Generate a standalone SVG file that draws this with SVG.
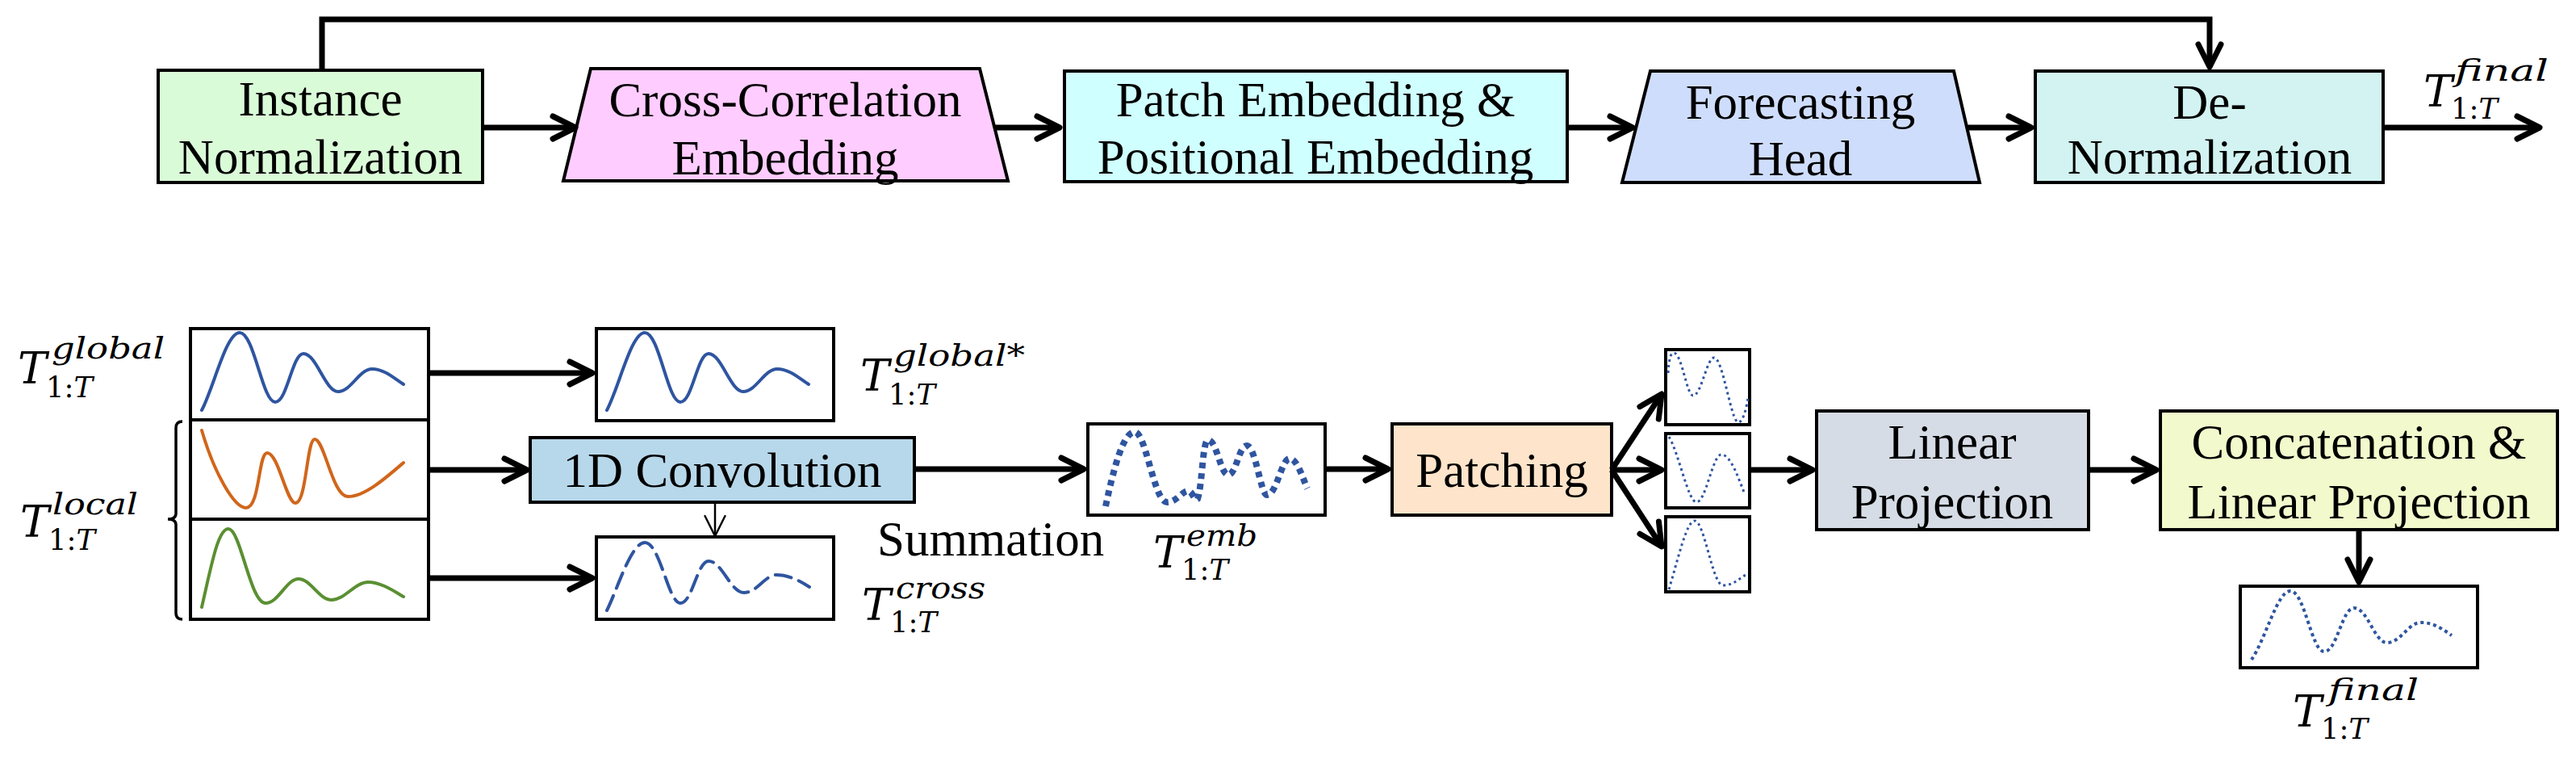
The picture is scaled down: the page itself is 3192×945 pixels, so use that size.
<svg xmlns="http://www.w3.org/2000/svg" width="3192" height="945" viewBox="0 0 3192 945">
<defs>
<style>
.box{stroke:#000;stroke-width:4;}
.lbl{font-family:"Liberation Serif","Times New Roman","DejaVu Serif",serif;font-size:61px;fill:#000;text-anchor:middle;}
.lbls{font-family:"Liberation Serif","Times New Roman","DejaVu Serif",serif;font-size:61px;fill:#000;}
.mT{font-family:"DejaVu Serif","Liberation Serif",serif;font-style:italic;font-size:54px;fill:#000;}
.mS{font-family:"DejaVu Serif","Liberation Serif",serif;font-style:italic;font-size:38px;fill:#000;}
.mB{font-family:"DejaVu Serif","Liberation Serif",serif;font-style:italic;font-size:36px;fill:#000;}
.up{font-style:normal;}
.conn{fill:none;stroke:#000;stroke-width:7;marker-end:url(#arr);}
.thin{fill:none;stroke:#000;stroke-width:2.5;marker-end:url(#arrs);}
.wave{fill:none;stroke-width:4;stroke-linecap:round;stroke-linejoin:round;}
</style>
<marker id="arr" markerUnits="strokeWidth" orient="auto" overflow="visible" markerWidth="1" markerHeight="1">
<path d="M-4,-2 L0,0 L-4,2" fill="none" stroke="#000" stroke-width="1" stroke-linecap="round" stroke-linejoin="round"/>
</marker>
<marker id="arrs" markerUnits="strokeWidth" orient="auto" overflow="visible" markerWidth="1" markerHeight="1">
<path d="M-10,-5 L0,0 L-10,5" fill="none" stroke="#000" stroke-width="1" stroke-linecap="round" stroke-linejoin="round"/>
</marker>
<path id="gwave" d="M250,508 C265,480 280,412 297,412 C315,412 325,498 341,498 C356,498 362,438 376,438 C392,438 403,485 419,485 C435,485 445,457 461,457 C477,457 490,470 500,476"/>
</defs>
<rect width="3192" height="945" fill="#fff"/>

<!-- Top row -->
<g id="instance-norm">
<rect class="box" x="196" y="87" width="402" height="139" fill="#DAFBD8"/>
<text class="lbl" x="397" y="143">Instance</text>
<text class="lbl" x="397" y="215">Normalization</text>
</g>
<g id="cross-corr-emb">
<polygon class="box" points="732,85 1214,85 1249,224 698,224" fill="#FFCCFF"/>
<text class="lbl" x="973" y="144">Cross-Correlation</text>
<text class="lbl" x="973" y="216">Embedding</text>
</g>
<g id="patch-pos-emb">
<rect class="box" x="1319" y="88" width="623" height="137" fill="#CFFFFF"/>
<text class="lbl" x="1630" y="144">Patch Embedding &amp;</text>
<text class="lbl" x="1630" y="215">Positional Embedding</text>
</g>
<g id="forecast-head">
<polygon class="box" points="2045,88 2421,88 2453,226 2010,226" fill="#CFDDFC"/>
<text class="lbl" x="2231" y="147">Forecasting</text>
<text class="lbl" x="2231" y="217">Head</text>
</g>
<g id="de-norm">
<rect class="box" x="2522" y="88" width="431" height="138" fill="#D2F3F1"/>
<text class="lbl" x="2738" y="147">De-</text>
<text class="lbl" x="2738" y="215">Normalization</text>
</g>
<g id="lbl-final-top">
<text class="mT" x="3003" y="132">T</text>
<text class="mS" x="3042" y="100" textLength="116" lengthAdjust="spacingAndGlyphs">final</text>
<text class="mB" x="3037" y="147" textLength="58" lengthAdjust="spacingAndGlyphs"><tspan class="up">1:</tspan>T</text>
</g>

<!-- Bottom left inputs -->
<g id="input-global">
<rect class="box" x="236" y="407" width="295" height="113" fill="#fff"/>
<use href="#gwave" class="wave" stroke="#2F55A0"/>
</g>
<g id="input-local-1">
<rect class="box" x="236" y="520" width="295" height="123" fill="#fff"/>
<path class="wave" stroke="#D0661B" d="M250,533 C265,585 290,629 305,629 C322,629 320,561 331,561 C345,561 355,623 366,623 C380,623 380,544 390,544 C402,544 412,615 431,615 C452,615 478,592 500,573"/>
</g>
<g id="input-local-2">
<rect class="box" x="236" y="643" width="295" height="124" fill="#fff"/>
<path class="wave" stroke="#5A8F32" d="M250,752 C262,700 270,655 283,655 C298,655 310,747 329,747 C345,747 355,717 370,717 C385,717 395,743 411,743 C427,743 440,721 456,721 C472,721 488,732 500,739"/>
</g>
<g id="brace">
<path d="M226,522 Q218,522 218,530 L218,636 Q218,643 208,643 Q218,643 218,650 L218,759 Q218,767 226,767" fill="none" stroke="#000" stroke-width="3.5"/>
</g>
<g id="lbl-global">
<text class="mT" x="22" y="475">T</text>
<text class="mS" x="64" y="444" textLength="140" lengthAdjust="spacingAndGlyphs">global</text>
<text class="mB" x="57" y="492" textLength="58" lengthAdjust="spacingAndGlyphs"><tspan class="up">1:</tspan>T</text>
</g>
<g id="lbl-local">
<text class="mT" x="25" y="665">T</text>
<text class="mS" x="65" y="637" textLength="106" lengthAdjust="spacingAndGlyphs">local</text>
<text class="mB" x="60" y="681" textLength="58" lengthAdjust="spacingAndGlyphs"><tspan class="up">1:</tspan>T</text>
</g>

<!-- Middle -->
<g id="global-star">
<rect class="box" x="739" y="407" width="294" height="114" fill="#fff"/>
<use href="#gwave" class="wave" stroke="#2F55A0" transform="translate(502,0)"/>
</g>
<g id="lbl-global-star">
<text class="mT" x="1066" y="484">T</text>
<text class="mS" x="1107" y="453" textLength="163" lengthAdjust="spacingAndGlyphs">global*</text>
<text class="mB" x="1101" y="501" textLength="58" lengthAdjust="spacingAndGlyphs"><tspan class="up">1:</tspan>T</text>
</g>
<g id="conv1d">
<rect class="box" x="657" y="542" width="476" height="80" fill="#B7D8EA"/>
<text class="lbl" x="895" y="603">1D Convolution</text>
</g>
<g id="cross-out">
<rect class="box" x="739" y="665" width="294" height="102" fill="#fff"/>
<path class="wave" stroke="#2F55A0" stroke-dasharray="20 10" d="M752,756 C765,730 782,672 799,672 C818,672 828,747 843,747 C858,747 864,695 878,695 C895,695 905,734 922,734 C938,734 948,712 962,712 C978,712 992,720 1003,727"/>
</g>
<g id="lbl-cross">
<text class="mT" x="1068" y="768">T</text>
<text class="mS" x="1110" y="741" textLength="111" lengthAdjust="spacingAndGlyphs">cross</text>
<text class="mB" x="1103" y="783" textLength="58" lengthAdjust="spacingAndGlyphs"><tspan class="up">1:</tspan>T</text>
</g>
<g id="summation">
<text class="lbls" x="1087" y="688">Summation</text>
</g>
<g id="emb">
<rect class="box" x="1348" y="525" width="294" height="113" fill="#fff"/>
<path fill="none" stroke="#2F55A0" stroke-width="8" stroke-dasharray="7 6" d="M1370,627 C1380,580 1392,535 1406,535 C1420,535 1430,622 1446,622 C1458,622 1465,608 1472,608 C1478,608 1480,622 1484,618 C1490,600 1490,545 1497,545 C1508,545 1512,588 1522,588 C1532,588 1535,552 1545,552 C1556,552 1562,613 1570,613 C1582,613 1588,568 1598,568 C1608,568 1615,595 1620,605"/>
</g>
<g id="lbl-emb">
<text class="mT" x="1429" y="703">T</text>
<text class="mS" x="1470" y="676" textLength="88" lengthAdjust="spacingAndGlyphs">emb</text>
<text class="mB" x="1464" y="718" textLength="58" lengthAdjust="spacingAndGlyphs"><tspan class="up">1:</tspan>T</text>
</g>
<g id="patching">
<rect class="box" x="1725" y="525" width="272" height="113" fill="#FDE4CA"/>
<text class="lbl" x="1861" y="603">Patching</text>
</g>
<g id="patch-1">
<rect class="box" x="2064" y="433" width="104" height="93" fill="#fff"/>
<path fill="none" stroke="#2F55A0" stroke-width="3" stroke-dasharray="3 4" d="M2067,462 C2068,445 2070,437 2074,437 C2084,437 2090,490 2098,490 C2108,490 2115,443 2124,443 C2135,443 2145,523 2154,523 C2160,523 2164,505 2166,493"/>
</g>
<g id="patch-2">
<rect class="box" x="2064" y="537" width="104" height="92" fill="#fff"/>
<path fill="none" stroke="#2F55A0" stroke-width="3" stroke-dasharray="3 4" d="M2068,541 C2080,560 2092,622 2102,622 C2114,622 2122,563 2133,563 C2145,563 2155,595 2162,612"/>
</g>
<g id="patch-3">
<rect class="box" x="2064" y="640" width="104" height="93" fill="#fff"/>
<path fill="none" stroke="#2F55A0" stroke-width="3" stroke-dasharray="3 4" d="M2068,730 C2080,690 2090,645 2100,645 C2112,645 2122,725 2135,725 C2148,725 2156,716 2163,712"/>
</g>
<g id="linear-proj">
<rect class="box" x="2251" y="509" width="337" height="147" fill="#D6DCE5"/>
<text class="lbl" x="2419" y="568">Linear</text>
<text class="lbl" x="2419" y="642">Projection</text>
</g>
<g id="concat-proj">
<rect class="box" x="2677" y="509" width="492" height="147" fill="#F2F9CC"/>
<text class="lbl" x="2923" y="568">Concatenation &amp;</text>
<text class="lbl" x="2923" y="642">Linear Projection</text>
</g>
<g id="final-out">
<rect class="box" x="2776" y="726" width="294" height="101" fill="#fff"/>
<path fill="none" stroke="#2F55A0" stroke-width="4" stroke-dasharray="4 4" d="M2790,817 C2808,790 2822,732 2838,732 C2856,732 2864,807 2880,807 C2896,807 2902,753 2917,753 C2934,753 2942,796 2958,796 C2975,796 2984,771 3000,771 C3016,771 3028,780 3038,787"/>
</g>
<g id="lbl-final">
<text class="mT" x="2841" y="900">T</text>
<text class="mS" x="2885" y="867" textLength="112" lengthAdjust="spacingAndGlyphs">final</text>
<text class="mB" x="2876" y="915" textLength="58" lengthAdjust="spacingAndGlyphs"><tspan class="up">1:</tspan>T</text>
</g>

<!-- Connectors -->
<g id="connectors">
<polyline class="conn" points="399,87 399,24 2738,24 2738,83"/>
<path class="conn" d="M598,158 H713"/>
<path class="conn" d="M1232,158 H1313"/>
<path class="conn" d="M1942,158 H2023"/>
<path class="conn" d="M2437,158 H2517"/>
<path class="conn" d="M2953,158 H3147"/>
<path class="conn" d="M531,462 H734"/>
<path class="conn" d="M531,582 H653"/>
<path class="conn" d="M531,716 H734"/>
<path class="conn" d="M1133,581 H1343"/>
<path class="conn" d="M1642,581 H1720"/>
<path class="conn" d="M1997,582 L2059,488"/>
<path class="conn" d="M1997,582 H2059"/>
<path class="conn" d="M1997,582 L2059,677"/>
<path class="conn" d="M2168,582 H2246"/>
<path class="conn" d="M2588,582 H2672"/>
<path class="conn" d="M2923,656 V721"/>
<path class="thin" d="M886,622 V664"/>
</g>
</svg>
